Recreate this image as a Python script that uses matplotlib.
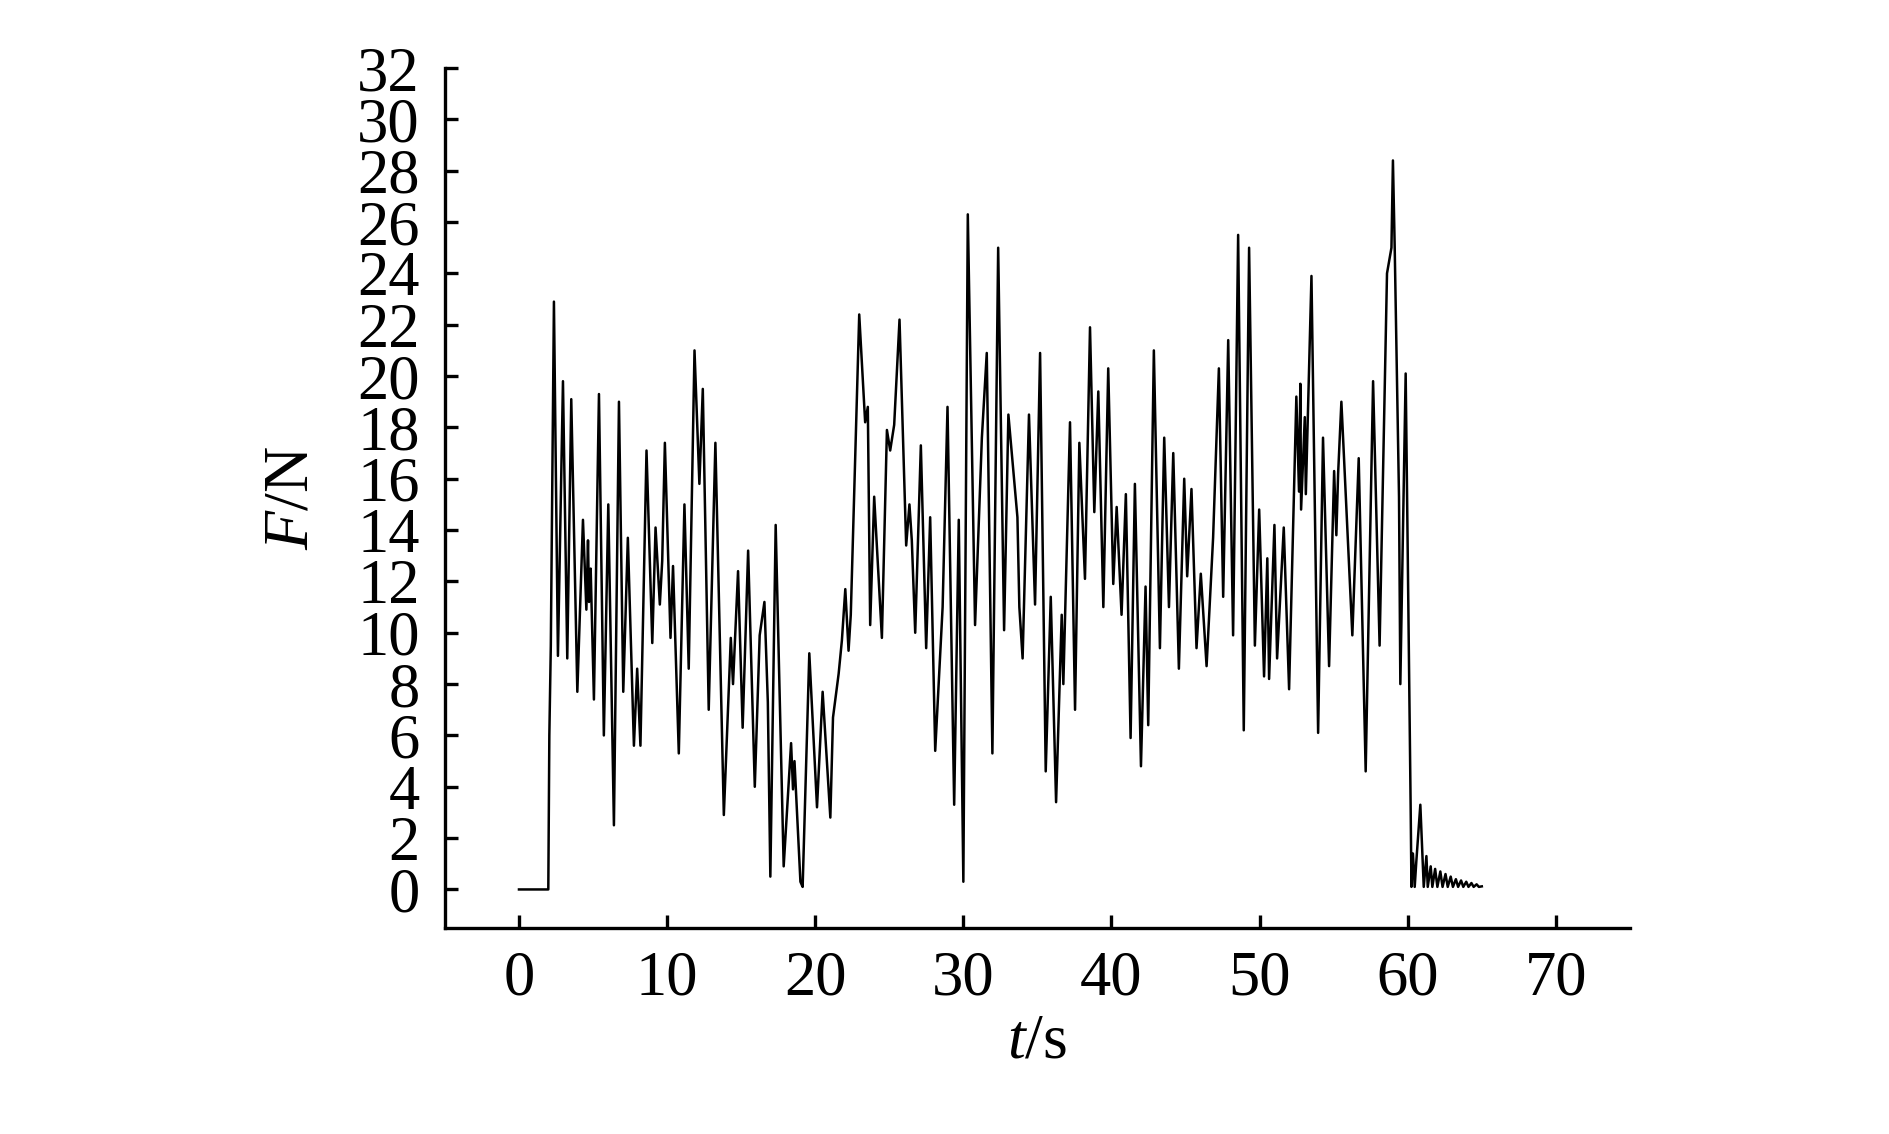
import matplotlib.pyplot as plt
import numpy as np

# time (s) and force (N) (peaks and troughs)
t_s = [0.0, 1.98, 2.05, 2.15, 2.36, 2.63, 2.97, 3.26, 3.53, 3.94, 4.32, 4.55, 4.66, 4.73,
       4.84, 5.06, 5.4, 5.73, 6.03, 6.41, 6.75, 7.04, 7.35, 7.76, 7.98, 8.2, 8.61, 9.0,
       9.22, 9.51, 9.67, 9.85, 10.23, 10.4, 10.79, 11.17, 11.46, 11.85, 12.18, 12.41,
       12.81, 13.26, 13.83, 14.3, 14.45, 14.79, 15.1, 15.47, 15.92, 16.25, 16.57, 16.8,
       16.97, 17.33, 17.87, 18.37, 18.5, 18.6, 19.0, 19.15, 19.6, 20.12, 20.5, 21.02,
       21.2, 21.58, 21.8, 22.03, 22.25, 22.4, 22.97, 23.37, 23.55, 23.71, 23.98, 24.5,
       24.84, 25.06, 25.33, 25.69, 26.14, 26.36, 26.52, 26.75, 27.13, 27.49, 27.76, 28.1,
       28.6, 28.93, 29.38, 29.69, 30.0, 30.3, 30.79, 31.25, 31.58, 31.96, 32.35, 32.75,
       33.04, 33.65, 33.78, 34.0, 34.43, 34.84, 35.18, 35.56, 35.9, 36.26, 36.64, 36.75,
       37.2, 37.54, 37.83, 38.21, 38.55, 38.84, 39.11, 39.45, 39.78, 40.12, 40.35, 40.68,
       40.97, 41.29, 41.58, 41.99, 42.3, 42.48, 42.86, 43.27, 43.56, 43.88, 44.17, 44.55,
       44.91, 45.11, 45.4, 45.74, 46.03, 46.42, 46.86, 47.25, 47.54, 47.88, 48.21, 48.55,
       48.93, 49.29, 49.68, 49.97, 50.3, 50.52, 50.64, 51.0, 51.18, 51.63, 51.99, 52.48,
       52.66, 52.75, 52.8, 53.05, 53.12, 53.5, 53.95, 54.28, 54.69, 55.03, 55.18, 55.3,
       55.52, 56.26, 56.69, 57.16, 57.66, 58.1, 58.6, 58.9, 59.0, 59.12, 59.41, 59.5,
       59.86, 60.2, 60.25, 60.35, 60.47, 60.58, 60.85, 61.08, 61.26, 61.35, 61.55, 61.66,
       61.85, 62.0, 62.2, 62.35, 62.55, 62.7, 62.9, 63.05, 63.25, 63.4, 63.6, 63.75,
       63.95, 64.1, 64.3, 64.45, 64.65, 64.8, 65.0]
force_n = [0.0, 0.0, 6.0, 9.5, 22.9, 9.1, 19.8, 9.0, 19.1, 7.7, 14.4, 10.9, 13.6, 11.2,
           12.5, 7.4, 19.3, 6.0, 15.0, 2.5, 19.0, 7.7, 13.7, 5.6, 8.6, 5.6, 17.1, 9.6,
           14.1, 11.1, 12.8, 17.4, 9.8, 12.6, 5.3, 15.0, 8.6, 21.0, 15.8, 19.5,
           7.0, 17.4, 2.9, 9.8, 8.0, 12.4, 6.3, 13.2, 4.0, 9.9, 11.2, 7.3,
           0.5, 14.2, 0.9, 5.7, 3.9, 5.0, 0.3, 0.1, 9.2, 3.2, 7.7, 2.8,
           6.7, 8.4, 9.7, 11.7, 9.3, 10.7, 22.4, 18.2, 18.8, 10.3, 15.3, 9.8,
           17.9, 17.1, 18.1, 22.2, 13.4, 15.0, 13.6, 10.0, 17.3, 9.4, 14.5, 5.4,
           11.0, 18.8, 3.3, 14.4, 0.3, 26.3, 10.3, 17.6, 20.9, 5.3, 25.0, 10.1,
           18.5, 14.5, 11.0, 9.0, 18.5, 11.1, 20.9, 4.6, 11.4, 3.4, 10.7, 8.0,
           18.2, 7.0, 17.4, 12.1, 21.9, 14.7, 19.4, 11.0, 20.3, 11.9, 14.9, 10.7,
           15.4, 5.9, 15.8, 4.8, 11.8, 6.4, 21.0, 9.4, 17.6, 11.0, 17.0, 8.6,
           16.0, 12.2, 15.6, 9.4, 12.3, 8.7, 13.7, 20.3, 11.4, 21.4, 9.9, 25.5,
           6.2, 25.0, 9.5, 14.8, 8.3, 12.9, 8.2, 14.2, 9.0, 14.1, 7.8, 19.2,
           15.5, 19.7, 14.8, 18.4, 15.4, 23.9, 6.1, 17.6, 8.7, 16.3, 13.8, 16.2,
           19.0, 9.9, 16.8, 4.6, 19.8, 9.5, 24.0, 25.0, 28.4, 25.0, 15.3, 8.0,
           20.1, 3.0, 0.1, 1.4, 0.1, 1.1, 3.3, 0.1, 1.3, 0.1, 0.9, 0.1,
           0.8, 0.1, 0.7, 0.1, 0.6, 0.1, 0.5, 0.1, 0.4, 0.1, 0.35, 0.1,
           0.3, 0.1, 0.25, 0.1, 0.2, 0.1, 0.12]

x_ticks = [0, 10, 20, 30, 40, 50, 60, 70]
y_ticks = list(range(0, 33, 2))

plt.rcParams['font.family'] = ['Liberation Serif', 'DejaVu Serif']
plt.rcParams['mathtext.fontset'] = 'custom'
plt.rcParams['mathtext.rm'] = 'Liberation Serif'
plt.rcParams['mathtext.it'] = 'Liberation Serif:italic'

fig = plt.figure(figsize=(18.9, 11.34), dpi=100)
ax = fig.add_axes([0.2354, 0.1817, 0.627, 0.7583])

ax.plot(t_s, force_n, color='black', lw=1.8)

ax.set_xlim(-5, 75)
ax.set_ylim(-1.5, 32)
ax.set_xticks(x_ticks)
ax.set_yticks(y_ticks)

for side in ['top', 'right']:
    ax.spines[side].set_visible(False)
for side in ['left', 'bottom']:
    ax.spines[side].set_linewidth(2.4)

ax.tick_params(axis='both', direction='in', length=9.5, width=2.4, labelsize=45)
ax.tick_params(axis='x', pad=16)
ax.tick_params(axis='y', pad=18)

ax.set_xlabel(r'$\mathit{t}$/s', fontsize=46, labelpad=4)
ax.set_ylabel(r'$\mathit{F}$/N', fontsize=46, labelpad=26)

fig.savefig('out.png', dpi=100)
